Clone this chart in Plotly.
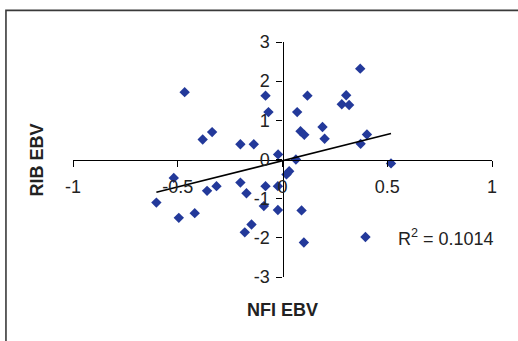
import numpy as np
import plotly.graph_objects as go

# NFI EBV (x) and RIB EBV (y)
nfi_ebv = [-0.467, -0.081, -0.067, -0.336, -0.381, -0.201, -0.137, -0.021,
           0.371, 0.119, 0.304, 0.283, 0.318, 0.070, 0.191, 0.086, 0.104,
           0.201, 0.403, 0.373, 0.064, 0.518, 0.032, 0.019, -0.519, -0.201,
           -0.315, -0.360, -0.172, -0.081, -0.022, -0.602, -0.089, -0.022,
           0.091, -0.495, -0.419, -0.148, -0.180, 0.102, 0.396]
rib_ebv = [1.72, 1.63, 1.21, 0.70, 0.51, 0.39, 0.39, 0.13,
           2.32, 1.63, 1.64, 1.41, 1.39, 1.21, 0.83, 0.72, 0.63,
           0.53, 0.64, 0.40, 0.00, -0.10, -0.30, -0.38, -0.47, -0.59,
           -0.68, -0.80, -0.86, -0.68, -0.68, -1.10, -1.19, -1.29,
           -1.30, -1.49, -1.37, -1.66, -1.86, -2.12, -1.98]

# linear trendline as drawn in the picture (slope, intercept)
trend_slope = 1.34
trend_intercept = -0.03

x_ticks = [-1, -0.5, 0, 0.5, 1]
x_tick_labels = ["-1", "-0.5", "0", "0.5", "1"]
y_ticks = [-3, -2, -1, 0, 1, 2, 3]
y_tick_labels = ["-3", "-2", "-1", "0", "1", "2", "3"]
r2_label = "R<sup>2</sup> = 0.1014"

tx = np.array([min(nfi_ebv), max(nfi_ebv)])
ty = trend_slope * tx + trend_intercept

FONT = "Liberation Sans, Arial, sans-serif"

fig = go.Figure()
fig.add_trace(go.Scatter(
    x=nfi_ebv, y=rib_ebv, mode="markers",
    marker=dict(symbol="diamond", size=8, color="#23399a"),
    showlegend=False, hoverinfo="skip"))
fig.add_trace(go.Scatter(
    x=tx, y=ty, mode="lines",
    line=dict(color="black", width=1.6),
    showlegend=False, hoverinfo="skip"))

fig.update_layout(
    width=518, height=341,
    margin=dict(l=73, r=26, t=42, b=64, autoexpand=False),
    paper_bgcolor="white", plot_bgcolor="white",
    font=dict(family=FONT, color="#222222", size=18),
    xaxis=dict(range=[-1, 1], tickvals=x_ticks, ticktext=x_tick_labels,
               anchor="free", position=0.5, automargin=False,
               showline=True, linecolor="black", linewidth=1.3,
               ticks="outside", ticklen=6, tickcolor="black", tickwidth=1.3,
               showgrid=False, zeroline=False, ticklabelstandoff=5,
               tickfont=dict(size=18, family=FONT, color="#222222")),
    yaxis=dict(range=[-3, 3], tickvals=y_ticks, ticktext=y_tick_labels,
               anchor="free", position=0.5, automargin=False,
               showline=True, linecolor="black", linewidth=1.3,
               ticks="outside", ticklen=6, tickcolor="black", tickwidth=1.3,
               showgrid=False, zeroline=False, ticklabelstandoff=3,
               tickfont=dict(size=18, family=FONT, color="#222222")),
    shapes=[dict(type="rect", xref="paper", yref="paper",
                 x0=-0.16, x1=1.08, y0=-0.30, y1=1.1345,
                 line=dict(color="#3a3a3a", width=1.6))],
    annotations=[
        dict(text=r2_label, x=0.78, y=-1.98, xref="x", yref="y",
             xanchor="center", yanchor="middle",
             showarrow=False, font=dict(size=18, family=FONT, color="#222222")),
        dict(text="<b>NFI EBV</b>", x=0.5, y=-0.139, xref="paper", yref="paper",
             xanchor="center", yanchor="middle",
             showarrow=False, font=dict(size=18, family=FONT, color="#222222")),
        dict(text="<b>RIB EBV</b>", x=-0.086, y=0.5, xref="paper", yref="paper",
             xanchor="center", yanchor="middle",
             textangle=-90, showarrow=False,
             font=dict(size=18, family=FONT, color="#222222")),
    ],
)

fig.write_html("out.html", config={"displayModeBar": False},
               post_script="document.body.style.margin='0px';document.body.style.overflow='hidden';")
